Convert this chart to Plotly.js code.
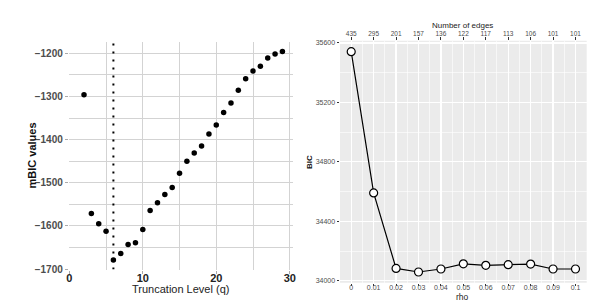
<!DOCTYPE html>
<html>
<head>
<meta charset="utf-8">
<script src="https://cdn.plot.ly/plotly-3.0.1.min.js"></script>
<style>html,body{margin:0;padding:0;background:#fff;}#chart{width:596px;height:308px;}</style>
</head>
<body>
<div id="chart"></div>
<script>
// Left panel: mBIC by truncation level
var truncLevel = [2,3,4,5,6,7,8,9,10,11,12,13,14,15,16,17,18,19,20,21,22,23,24,25,26,27,28,29];
var mbicValues = [-1296,-1571,-1595,-1612,-1679,-1664,-1643,-1639,-1608,-1564,-1546,-1527,-1511,-1478,-1450,-1431,-1415,-1387,-1366,-1337,-1315,-1286,-1259,-1241,-1230,-1211,-1202,-1196];
var chosenQ = 6;
var mbicRangeLine = [-1701, -1174];

// Right panel: BIC by rho
var rho = [0,0.01,0.02,0.03,0.04,0.05,0.06,0.07,0.08,0.09,0.1];
var bic = [35541,34591,34083,34059,34079,34114,34104,34108,34112,34079,34079];
var rhoTickLabels = ['0','0.01','0.02','0.03','0.04','0.05','0.06','0.07','0.08','0.09','0.1'];
var numEdges = ['435','295','201','157','136','122','117','113','106','101','101'];
var bicTicks = [34000,34400,34800,35200,35600];
var bicTickLabels = ['34000','34400','34800','35200','35600'];

var FONT = 'Liberation Sans, Arial, sans-serif';
var W = 596, H = 308;
function px(x){return x/W;}
function py(y){return 1 - y/H;}

var traces = [
  {x:[chosenQ, chosenQ], y:mbicRangeLine, xaxis:'x', yaxis:'y', mode:'lines',
   line:{color:'#000', width:2, dash:'2px,6px'}, hoverinfo:'skip'},
  {x:truncLevel, y:mbicValues, xaxis:'x', yaxis:'y', mode:'markers',
   marker:{color:'#000', size:5.5}},
  {x:rho, y:bic, xaxis:'x3', yaxis:'y2', mode:'lines', opacity:0,
   line:{color:'#000', width:0}, hoverinfo:'skip'},
  {x:rho, y:bic, xaxis:'x2', yaxis:'y2', mode:'lines+markers',
   line:{color:'#000', width:1.2},
   marker:{color:'#fff', size:8, line:{color:'#000', width:1.2}}}
];

var layout = {
  width: W, height: H,
  margin:{l:0,r:0,t:0,b:0},
  paper_bgcolor:'#fff', plot_bgcolor:'rgba(0,0,0,0)',
  showlegend:false,
  font:{family:FONT},
  xaxis:{domain:[px(68.8), px(292.7)], range:[-0.07, 30.4], anchor:'y',
    tickvals:[0,10,20,30], ticktext:['0','10','20','30'],
    showgrid:true, gridcolor:'#d3d3d3', gridwidth:1, zeroline:false, showline:false,
    ticks:'outside', ticklen:3, tickcolor:'#aaa', ticklabelstandoff:-5,
    minor:{dtick:5, tick0:0, showgrid:true, gridcolor:'#d3d3d3', gridwidth:1},
    tickfont:{size:11, color:'#222', weight:'bold'}},
  yaxis:{domain:[py(269.6), py(42)], range:mbicRangeLine, anchor:'x',
    tickvals:[-1700,-1600,-1500,-1400,-1300,-1200],
    ticktext:['\u22121700','\u22121600','\u22121500','\u22121400','\u22121300','\u22121200'],
    showgrid:true, gridcolor:'#d3d3d3', gridwidth:1, zeroline:false, showline:false,
    ticks:'outside', ticklen:3, tickcolor:'#aaa',
    minor:{dtick:50, tick0:-1700, showgrid:true, gridcolor:'#d3d3d3', gridwidth:1},
    tickfont:{size:10, color:'#4d4d4d', weight:'bold'}},
  xaxis2:{domain:[px(340), px(586.7)], range:[-0.005, 0.105], anchor:'y2',
    tickvals:rho, ticktext:rhoTickLabels,
    showgrid:true, gridcolor:'#fff', gridwidth:1.2, zeroline:false, showline:false,
    ticks:'outside', ticklen:2.5, tickcolor:'#333', ticklabelstandoff:-5,
    minor:{dtick:0.005, tick0:-0.005, showgrid:true, gridcolor:'#fff', gridwidth:0.6},
    tickfont:{size:7, color:'#4d4d4d'}},
  xaxis3:{overlaying:'x2', side:'top', anchor:'y2', range:[-0.005, 0.105],
    tickvals:rho, ticktext:numEdges, showgrid:false, zeroline:false, showline:false,
    ticks:'outside', ticklen:2.5, tickcolor:'#333', ticklabelstandoff:-1,
    tickfont:{size:6.5, color:'#4d4d4d'}},
  yaxis2:{domain:[py(282.7), py(40.7)], range:[33987, 35615], anchor:'x2',
    tickvals:bicTicks, ticktext:bicTickLabels,
    showgrid:true, gridcolor:'#fff', gridwidth:1.2, zeroline:false, showline:false,
    ticks:'outside', ticklen:2.5, tickcolor:'#333',
    minor:{dtick:200, tick0:34000, showgrid:true, gridcolor:'#fff', gridwidth:0.6},
    tickfont:{size:7, color:'#4d4d4d'}},
  shapes:[
    {type:'rect', xref:'x2 domain', yref:'y2 domain', x0:0, x1:1, y0:0, y1:1,
     fillcolor:'#ebebeb', line:{width:0}, layer:'below'}
  ],
  annotations:[
    {text:'mBIC values', xref:'paper', yref:'paper', x:px(31), y:py(155.5), textangle:-90,
     xanchor:'center', yanchor:'middle',
     showarrow:false, font:{size:11, color:'#111', weight:'bold'}},
    {text:'Truncation Level (q)', xref:'paper', yref:'paper', x:px(180.5), y:py(288.5),
     xanchor:'center', yanchor:'middle',
     showarrow:false, font:{size:11, color:'#222'}},
    {text:'BIC', xref:'paper', yref:'paper', x:px(309), y:py(162), textangle:-90,
     xanchor:'center', yanchor:'middle',
     showarrow:false, font:{size:8, color:'#111', weight:'bold'}},
    {text:'rho', xref:'paper', yref:'paper', x:px(462), y:py(296.5),
     xanchor:'center', yanchor:'middle',
     showarrow:false, font:{size:8.5, color:'#222'}},
    {text:'Number of edges', xref:'paper', yref:'paper', x:px(462), y:py(26),
     xanchor:'center', yanchor:'middle',
     showarrow:false, font:{size:8, color:'#222'}}
  ]
};

Plotly.newPlot('chart', traces, layout, {displayModeBar:false, staticPlot:true});
</script>
</body>
</html>
